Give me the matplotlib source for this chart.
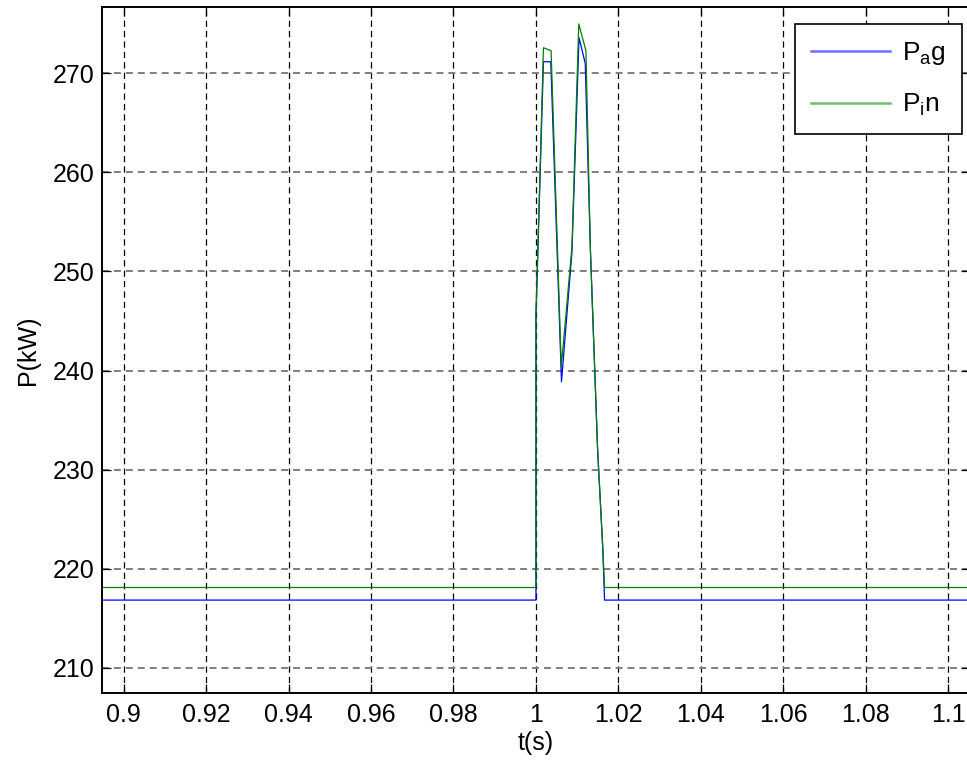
#!/usr/bin/python3

from matplotlib import pyplot as plt
from matplotlib.lines import Line2D
from matplotlib.ticker import MultipleLocator

# solver output around the disturbance at t = 1 s
t_ag = [0.88, 1.0, 1.0, 1.00182, 1.0036, 1.00619, 1.00873, 1.01044, 1.01195,
        1.0132, 1.01495, 1.01622, 1.01663, 1.12]
p_ag = [216.83, 216.83, 245.5, 271.17, 271.17, 238.87, 252.0, 273.6, 271.0,
        252.2, 232.0, 221.9, 216.83, 216.83]

t_in = [0.88, 1.0, 1.0, 1.00182, 1.00367, 1.00614, 1.00873, 1.01038, 1.01212,
        1.0132, 1.01495, 1.01622, 1.01663, 1.12]
p_in = [218.1, 218.1, 245.5, 272.58, 272.28, 240.38, 252.5, 274.98, 272.28,
        252.2, 232.0, 222.0, 218.1, 218.1]

x_ticks = [0.9, 0.92, 0.94, 0.96, 0.98, 1.0, 1.02, 1.04, 1.06, 1.08, 1.1]
x_tick_labels = ['0.9', '0.92', '0.94', '0.96', '0.98', '1', '1.02', '1.04',
                 '1.06', '1.08', '1.1']
y_ticks = [210, 220, 230, 240, 250, 260, 270]

plt.rcParams['font.family'] = ['Liberation Sans', 'DejaVu Sans']
plt.rcParams['mathtext.fontset'] = 'custom'
plt.rcParams['mathtext.rm'] = 'Liberation Sans'
plt.rcParams['mathtext.default'] = 'regular'
plt.rcParams['lines.scale_dashes'] = False

fig = plt.figure(figsize=(9.67, 7.65), dpi=100)
ax = fig.add_axes([0.1052, 0.0941, 0.8981, 0.8967])

ax.plot(t_ag, p_ag, color='#0000ff', lw=0.9)
ax.plot(t_in, p_in, color='#008000', lw=0.9)

ax.set_xlim(0.8947, 1.1053)
ax.set_ylim(207.45, 276.69)
ax.set_xticks(x_ticks)
ax.set_xticklabels(x_tick_labels)
ax.set_yticks(y_ticks)
ax.yaxis.set_minor_locator(MultipleLocator(100))

# grid drawn by hand so vertical and horizontal lines can differ a bit
for xv in x_ticks:
    ax.axvline(xv, color='black', lw=0.9, ls=(0, (4.5, 3.0)), zorder=0)
for yv in y_ticks:
    ax.axhline(yv, color='#7f7f7f', lw=1.4, ls=(0, (5.0, 3.6)), zorder=0)

ax.tick_params(direction='in', length=6.5, width=0.9, labelsize=18,
               top=True, right=True)
ax.tick_params(axis='x', pad=7)
ax.tick_params(axis='y', pad=5)
for side in ax.spines.values():
    side.set_linewidth(1.4)

ax.set_xlabel('t(s)', fontsize=18, labelpad=3)
ax.set_ylabel('P(kW)', fontsize=18, labelpad=9)

handles = [Line2D([], [], color='#6f6fff', lw=1.8),
           Line2D([], [], color='#6fbf6f', lw=1.8)]
leg = ax.legend(handles, ['P$_a$g', 'P$_i$n'], loc='upper right',
                bbox_to_anchor=(961.7 / 967, 1 - 24 / 765),
                bbox_transform=fig.transFigure, fancybox=False,
                framealpha=1, edgecolor='black', fontsize=19,
                handlelength=3.0, handletextpad=0.45, borderpad=0.6,
                labelspacing=0.95, borderaxespad=0)
leg.get_frame().set_linewidth(1.2)

plt.savefig('out.png', dpi=100)
plt.close()
